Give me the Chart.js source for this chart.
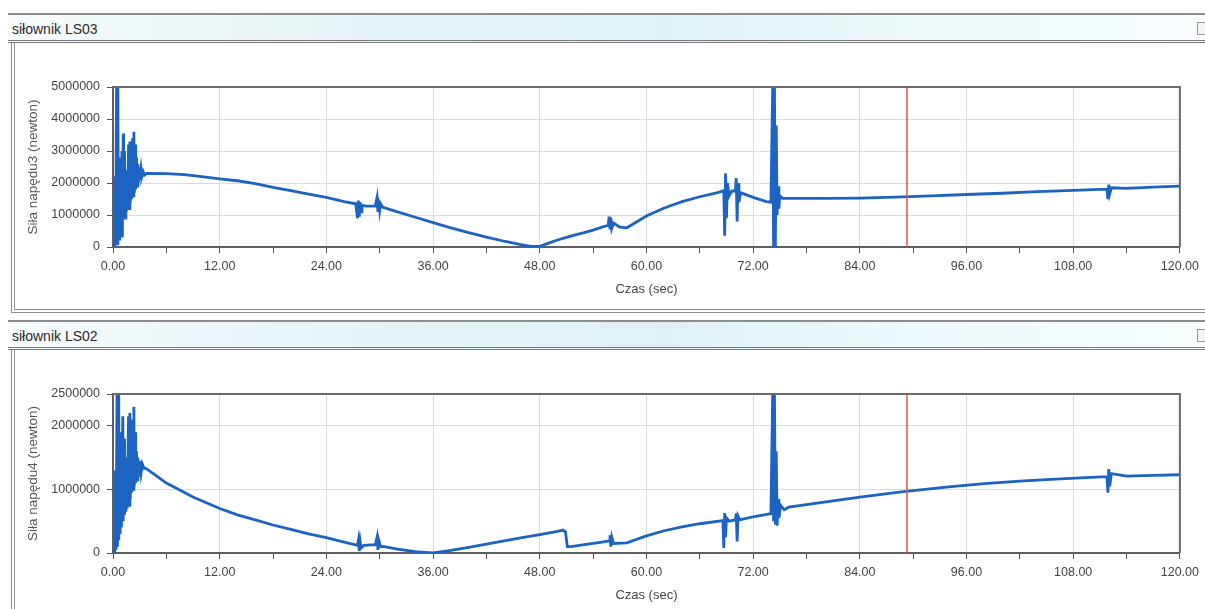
<!DOCTYPE html>
<html lang="pl">
<head>
<meta charset="UTF-8">
<title>siłownik LS03 / LS02</title>
<style>
    body {
        margin: 0;
        width: 1205px;
        height: 609px;
        overflow: hidden;
        background: #fff;
        font-family: "Liberation Sans", Arial, sans-serif;
        position: relative;
    }
    .bar {
        position: absolute;
        left: 8px;
        width: 1200px;
        height: 25px;
        border-top: 2px solid #8c8c8c;
        border-bottom: 3px double #7a7a7a;
        background: linear-gradient(to right, #f6fbfc 0%, #e6f3f6 30%, #dff1f5 55%, #eef9fb 75%, #f8fdfe 100%);
    }
    .bar span {
        position: absolute;
        left: 4px;
        top: 6px;
        font-size: 14px;
        color: #2a2a2a;
    }
    .bar i {
        position: absolute;
        right: 0;
        top: 7px;
        width: 9px;
        height: 11px;
        border: 1px solid #999;
        background: #f4f4f4;
    }
    .panel {
        position: absolute;
        left: 11px;
        width: 1200px;
        border-left: 4px double #8d8d8d;
        background: #fff;
    }
    canvas { position: absolute; }
</style>
</head>
<body>
    <div class="bar" style="top:13px"><span>siłownik LS03</span><i></i></div>
    <div class="panel" style="top:43px;height:266px;border-bottom:4px double #8d8d8d"></div>
    <div class="bar" style="top:320px"><span>siłownik LS02</span><i></i></div>
    <div class="panel" style="top:350px;height:270px"></div>

    <div style="position:absolute;left:14px;top:50px;width:1191px;height:256px"><canvas id="chartLS03"></canvas></div>
    <div style="position:absolute;left:14px;top:352px;width:1191px;height:256px"><canvas id="chartLS02"></canvas></div>

    <script src="https://cdn.jsdelivr.net/npm/chart.js"></script>
    <script>
        // dane (czas w s, siła w N)
        const timeLS03 = [
            0.00, 0.05, 0.10, 0.15, 0.20, 0.25, 0.30, 0.40, 0.45, 0.55, 0.60, 0.70, 0.75, 0.85, 0.90,
            1.00, 1.05, 1.15, 1.20, 1.30, 1.35, 1.45, 1.50, 1.60, 1.65, 1.75, 1.80, 1.90, 1.95,
            2.05, 2.10, 2.20, 2.25, 2.35, 2.40, 2.50, 2.55, 2.65, 2.70, 2.80, 2.85, 2.95,
            3.00, 3.15, 3.25, 3.40, 3.55, 3.80,
            6, 8, 10, 12, 14, 16, 18, 20, 22, 24, 26,
            27.3, 27.5, 27.6, 27.7, 27.8, 27.9, 28.0, 28.5, 29.5, 29.7, 29.8, 29.9, 30.0, 30.1, 30.3,
            32, 34, 36, 38, 40, 42, 44, 46, 47, 48, 49, 50, 51, 52, 53, 54, 55,
            55.7, 55.8, 55.9, 56.0, 56.1, 56.3, 57, 57.8, 58.5, 60, 62, 64, 66, 68,
            68.7, 68.8, 68.9, 69.0, 69.1, 69.3, 69.6, 70.0, 70.1, 70.2, 70.3, 70.4, 70.6, 72, 73.5,
            74.0, 74.2, 74.3, 74.4, 74.5, 74.6, 74.7, 74.8, 74.9, 75.0, 75.3,
            80, 84, 88, 92, 96, 100, 104, 108, 111, 111.8, 111.9, 112.0, 112.1, 112.3, 114, 117, 120
        ];
        const forceLS03 = [
            0, 2000000, 200000, 2100000, 0, 2200000, 100000, 5000000, 100000, 5000000, 300000, 2600000, 200000, 2800000, 400000,
            3000000, 300000, 3550000, 1000000, 3000000, 900000, 2400000, 1100000, 2100000, 1200000, 3200000, 1200000, 3300000, 1400000,
            3000000, 1500000, 3400000, 1600000, 3600000, 1700000, 3200000, 1800000, 2800000, 1900000, 2600000, 2000000, 2500000,
            2100000, 2450000, 2200000, 2350000, 2250000, 2300000,
            2290000, 2260000, 2200000, 2130000, 2070000, 1980000, 1860000, 1760000, 1650000, 1550000, 1420000,
            1350000, 900000, 1450000, 950000, 1400000, 1100000, 1300000, 1280000, 1280000, 1550000, 1100000, 1450000, 1150000, 1350000, 1250000,
            1100000, 930000, 760000, 600000, 450000, 310000, 180000, 70000, 20000, 20000, 120000, 220000, 300000, 380000, 450000, 530000, 620000,
            680000, 950000, 550000, 900000, 580000, 750000, 620000, 600000, 720000, 970000, 1220000, 1420000, 1570000, 1700000,
            1760000, 350000, 2300000, 900000, 2000000, 1600000, 1750000, 1750000, 2150000, 800000, 2000000, 1400000, 1700000, 1550000, 1420000,
            1400000, 5000000, 0, 5000000, 0, 3800000, 1000000, 1900000, 1200000, 1600000, 1520000,
            1520000, 1530000, 1560000, 1600000, 1640000, 1680000, 1730000, 1770000, 1800000, 1800000, 1500000, 1950000, 1650000, 1850000, 1830000, 1870000, 1900000
        ];

        const timeLS02 = [
            0.00, 0.05, 0.10, 0.15, 0.20, 0.30, 0.35, 0.45, 0.50, 0.60, 0.65, 0.75, 0.80, 0.90, 0.95,
            1.10, 1.15, 1.25, 1.30, 1.40, 1.45, 1.55, 1.60, 1.75, 1.80, 1.90, 1.95,
            2.05, 2.10, 2.20, 2.25, 2.35, 2.40, 2.50, 2.55, 2.65, 2.70, 2.80, 2.90,
            3.00, 3.15, 3.30, 3.50, 3.70,
            5, 6, 7.5, 9, 10.5, 12, 14, 16, 18, 20, 22, 24, 26,
            27.5, 27.6, 27.7, 27.8, 27.9, 28.2, 29.5, 29.7, 29.8, 29.9, 30.1, 30.5,
            32, 34, 36, 38, 40, 42, 44, 46, 48, 50, 50.6, 50.9, 51.1, 51.5, 53, 55,
            55.8, 55.9, 56.0, 56.1, 56.3, 57.8, 60, 62, 64, 66,
            68.6, 68.7, 68.8, 68.9, 69.0, 69.3, 70.0, 70.1, 70.2, 70.3, 70.5, 72,
            74.0, 74.2, 74.3, 74.4, 74.5, 74.6, 74.7, 74.8, 74.9, 75.1, 75.5, 76,
            80, 84, 88, 90, 94, 98, 102, 106, 110, 111.8, 111.9, 112.0, 112.1, 112.3, 114, 117, 120
        ];
        const forceLS02 = [
            0, 1300000, 100000, 1280000, 0, 1300000, 50000, 2500000, 100000, 2500000, 200000, 1600000, 300000, 1900000, 400000,
            2150000, 500000, 1800000, 600000, 1500000, 650000, 1400000, 700000, 2150000, 750000, 2200000, 850000,
            1900000, 950000, 2100000, 1000000, 2300000, 1050000, 1900000, 1100000, 1600000, 1150000, 1500000, 1200000,
            1450000, 1250000, 1400000, 1330000, 1330000,
            1200000, 1100000, 990000, 880000, 790000, 700000, 600000, 520000, 440000, 370000, 300000, 240000, 170000,
            120000, 200000, 30000, 180000, 80000, 120000, 130000, 250000, 50000, 200000, 100000, 100000,
            60000, 20000, 0, 40000, 90000, 140000, 190000, 240000, 290000, 340000, 360000, 330000, 100000, 100000, 130000, 170000,
            190000, 280000, 100000, 250000, 150000, 160000, 270000, 350000, 410000, 460000,
            510000, 80000, 630000, 250000, 550000, 500000, 520000, 620000, 180000, 580000, 520000, 570000,
            620000, 2500000, 500000, 2500000, 450000, 1600000, 430000, 850000, 550000, 750000, 680000, 720000,
            800000, 880000, 950000, 980000, 1040000, 1090000, 1130000, 1160000, 1190000, 1200000, 950000, 1320000, 1050000, 1250000, 1210000, 1220000, 1230000
        ];

        const yTicksLS03 = [0, 1000000, 2000000, 3000000, 4000000, 5000000];
        const yTicksLS02 = [0, 1000000, 2000000, 2500000];
        const markerTime = 89.3; // czerwona linia

        const lineBlue = '#1c63c2';

        const framePlugin = {
            id: 'frame',
            afterDatasetsDraw(chart) {
                const { ctx, chartArea: a, scales } = chart;
                const xm = scales.x.getPixelForValue(markerTime);
                ctx.save();
                ctx.strokeStyle = '#e2524f';
                ctx.lineWidth = 1.5;
                ctx.beginPath();
                ctx.moveTo(xm, a.top);
                ctx.lineTo(xm, a.bottom);
                ctx.stroke();
                ctx.strokeStyle = '#6a6a6a';
                ctx.lineWidth = 2;
                ctx.beginPath();
                ctx.moveTo(a.left, a.top);
                ctx.lineTo(a.right, a.top);
                ctx.lineTo(a.right, a.bottom);
                ctx.stroke();
                ctx.restore();
            }
        };

        function makeChart(id, times, forces, yTicks, yMax, yTitle, padTop, padBottom) {
            const pts = times.map((t, i) => ({ x: t, y: forces[i] }));
            return new Chart(document.getElementById(id), {
                type: 'line',
                data: {
                    datasets: [{
                        data: pts,
                        borderColor: lineBlue,
                        borderWidth: 2.8,
                        pointRadius: 0,
                        tension: 0
                    }]
                },
                options: {
                    responsive: true,
                    maintainAspectRatio: false,
                    animation: false,
                    layout: { padding: { top: padTop, right: 25, bottom: padBottom, left: 0 } },
                    plugins: { legend: { display: false }, tooltip: { enabled: false } },
                    scales: {
                        x: {
                            type: 'linear',
                            min: 0,
                            max: 120,
                            afterFit: s => { s.height = 50; },
                            ticks: {
                                stepSize: 6,
                                autoSkip: false,
                                maxRotation: 0,
                                padding: 6,
                                color: '#444',
                                font: { size: 12.5, family: 'Liberation Sans' },
                                callback: v => (v % 12 === 0 ? v.toFixed(2) : '')
                            },
                            grid: {
                                color: c => (c.tick && c.tick.value % 12 === 0 && c.tick.value > 0 && c.tick.value < 120 ? '#dcdcdc' : 'transparent'),
                                tickColor: '#555',
                                tickLength: 6
                            },
                            border: { color: '#5f5f5f', width: 2 },
                            title: {
                                display: true,
                                text: 'Czas (sec)',
                                color: '#444',
                                font: { size: 13, family: 'Liberation Sans' },
                                padding: { top: 3, bottom: 0 }
                            }
                        },
                        y: {
                            min: 0,
                            max: yMax,
                            afterFit: s => { s.width = 99; },
                            afterBuildTicks: s => { s.ticks = yTicks.map(v => ({ value: v })); },
                            ticks: {
                                padding: 7,
                                color: '#444',
                                font: { size: 12.5, family: 'Liberation Sans' },
                                callback: v => String(v)
                            },
                            grid: {
                                color: c => (c.tick && c.tick.value > 0 && c.tick.value < yMax ? '#dcdcdc' : 'transparent'),
                                tickColor: '#555',
                                tickLength: 6
                            },
                            border: { color: '#5f5f5f', width: 2 },
                            title: {
                                display: true,
                                text: yTitle,
                                color: '#555',
                                font: { size: 13.5, family: 'Liberation Sans' },
                                padding: { top: 11, bottom: 0 }
                            }
                        }
                    }
                },
                plugins: [framePlugin]
            });
        }

        makeChart('chartLS03', timeLS03, forceLS03, yTicksLS03, 5000000, 'Siła napędu3 (newton)', 37, 9);
        makeChart('chartLS02', timeLS02, forceLS02, yTicksLS02, 2500000, 'Siła napędu4 (newton)', 42, 5);
    </script>
</body>
</html>
